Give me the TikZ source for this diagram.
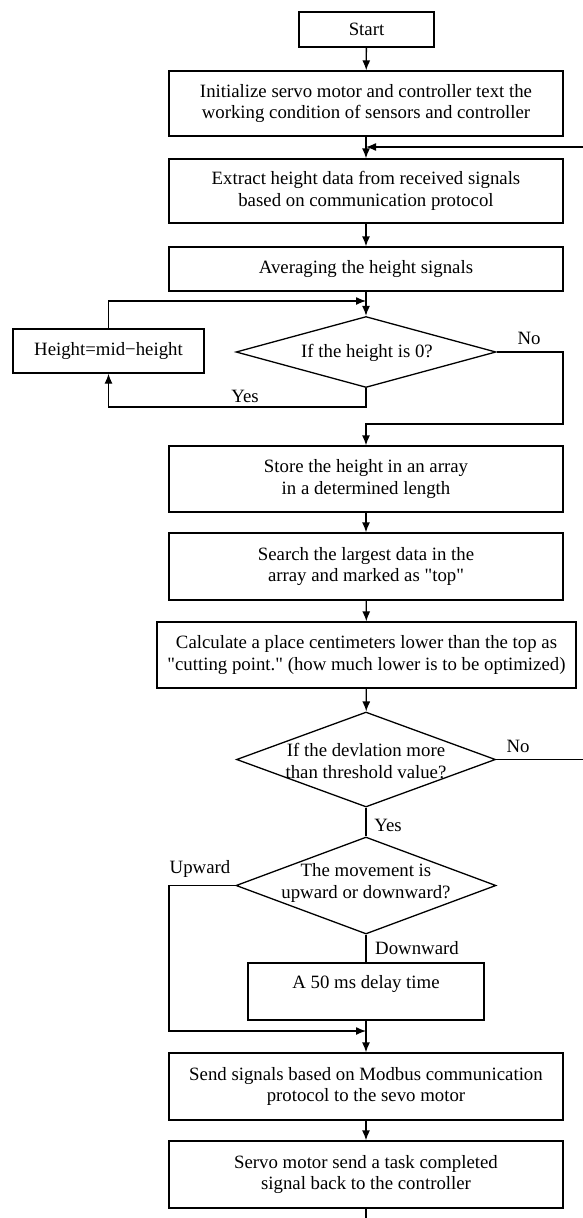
\documentclass[tikz,border=0pt]{standalone}
\usepackage{fontspec}
\setmainfont{Liberation Serif}
\usepackage{tikz}
\usetikzlibrary{shapes,shapes.geometric,backgrounds,arrows,arrows.meta}

\tikzset{
	block/.style={draw, rectangle, line width=1.3pt, inner sep=0pt, align=center, minimum width=394pt, minimum height=66pt},
	decision/.style={draw, diamond, line width=1.3pt, inner sep=0pt, minimum width=260pt},
	wire/.style={line width=1.3pt},
}

\begin{document}
\begin{tikzpicture}[x=1pt, y=-1pt, >={Latex[length=10pt, width=8pt]}, font=\fontsize{18.8}{21.5}\selectfont]
			\useasboundingbox (0, 0) rectangle (583, 1218);
			\coordinate (loopin) at (366, 301);
			\coordinate (yesrow) at (366, 407);
			\coordinate (noright) at (563, 424);
			\coordinate (backbot) at (600, 759.5);
			\coordinate (backtop) at (600, 147);
			\coordinate (upcorner) at (169, 1031);
			\coordinate (endpt) at (366, 1230);
			% boxes
			\node[block, minimum width=135pt, minimum height=35pt] (start) at (366.5, 29.5) {Start};
			\node[block, minimum height=65pt] (init) at (366, 103.5) {Initialize servo motor and controller text the\\working condition of sensors and controller};
			\node[block, minimum height=64pt] (extract) at (366, 191) {Extract height data from received signals\\based on communication protocol};
			\node[block, minimum height=44pt] (avg) at (366, 269) {Averaging the height signals};
			\node[decision, minimum height=71pt] (zero) at (366, 352) {};
			\node (zerotxt) at (367, 353) {If the height is 0?};
			\node[block, minimum width=191pt, minimum height=44pt] (height) at (108.5, 351) {Height=mid−height};
			\node[block] (store) at (366, 479) {Store the height in an array\\in a determined length};
			\node[block, minimum height=67pt] (search) at (366, 566.5) {Search the largest data in the\\array and marked as \textquotedbl top\textquotedbl};
			\node[block, minimum width=419pt] (calc) at (366.5, 655) {Calculate a place centimeters lower than the top as\\\textquotedbl cutting point.\textquotedbl\ (how much lower is to be optimized)};
			\node[decision, minimum width=259pt, minimum height=95pt] (dev) at (366, 759.5) {};
			\node[align=center, inner sep=0pt] (devtxt) at (366, 761) {If the devlation more\\than threshold value?};
			\node[decision, minimum height=97pt] (move) at (366, 885.5) {};
			\node[align=center, inner sep=0pt] (movetxt) at (366, 883) {The movement is\\upward or downward?};
			\node[block, minimum width=236pt, minimum height=57pt, text depth=20pt] (delay) at (366, 991.5) {A 50 ms delay time};
			\node[block, minimum height=67pt] (send) at (366, 1086.5) {Send signals based on Modbus communication\\protocol to the sevo motor};
			\node[block, minimum height=67pt] (servo) at (366, 1174.5) {Servo motor send a task completed\\signal back to the controller};
			% labels
			\node (nozero) at (529, 338) {No};
			\node (yeszero) at (245, 396) {Yes};
			\node (nodev) at (518, 746) {No};
			\node (yesdev) at (388, 825) {Yes};
			\node (upward) at (200, 869) {Upward};
			\node (downward) at (417, 948) {Downward};
			% connectors
			\draw[wire, ->] (start) -- (init);
			\draw[wire, ->] (init) -- (extract);
			\draw[wire, ->] (extract) -- (avg);
			\draw[wire, ->] (avg) -- (zero);
			\draw[wire, ->] (height.north) |- (loopin);
			\draw[wire, ->] (zero.south) -- (yesrow) -| (height.south);
			\draw[wire, ->] (zero.east) -| (noright) -- (store.north |- noright) -- (store.north);
			\draw[wire, ->] (store) -- (search);
			\draw[wire, ->] (search) -- (calc);
			\draw[wire, ->] (calc) -- (dev);
			\draw[wire, ->] (dev.east) -- (backbot) -- (backtop) -- (init.south |- backtop);
			\draw[wire] (dev.south) -- (move.north);
			\draw[wire, ->] (move.west) -| (upcorner) -- (send.north |- upcorner);
			\draw[wire] (move.south) -- (delay.north);
			\draw[wire, ->] (delay.south) -- (send.north);
			\draw[wire, ->] (send) -- (servo);
			\draw[wire] (servo.south) -- (endpt);
			% \draw[wire, ->] (servo.south) -- (endpt);
		\end{tikzpicture}
\end{document}
